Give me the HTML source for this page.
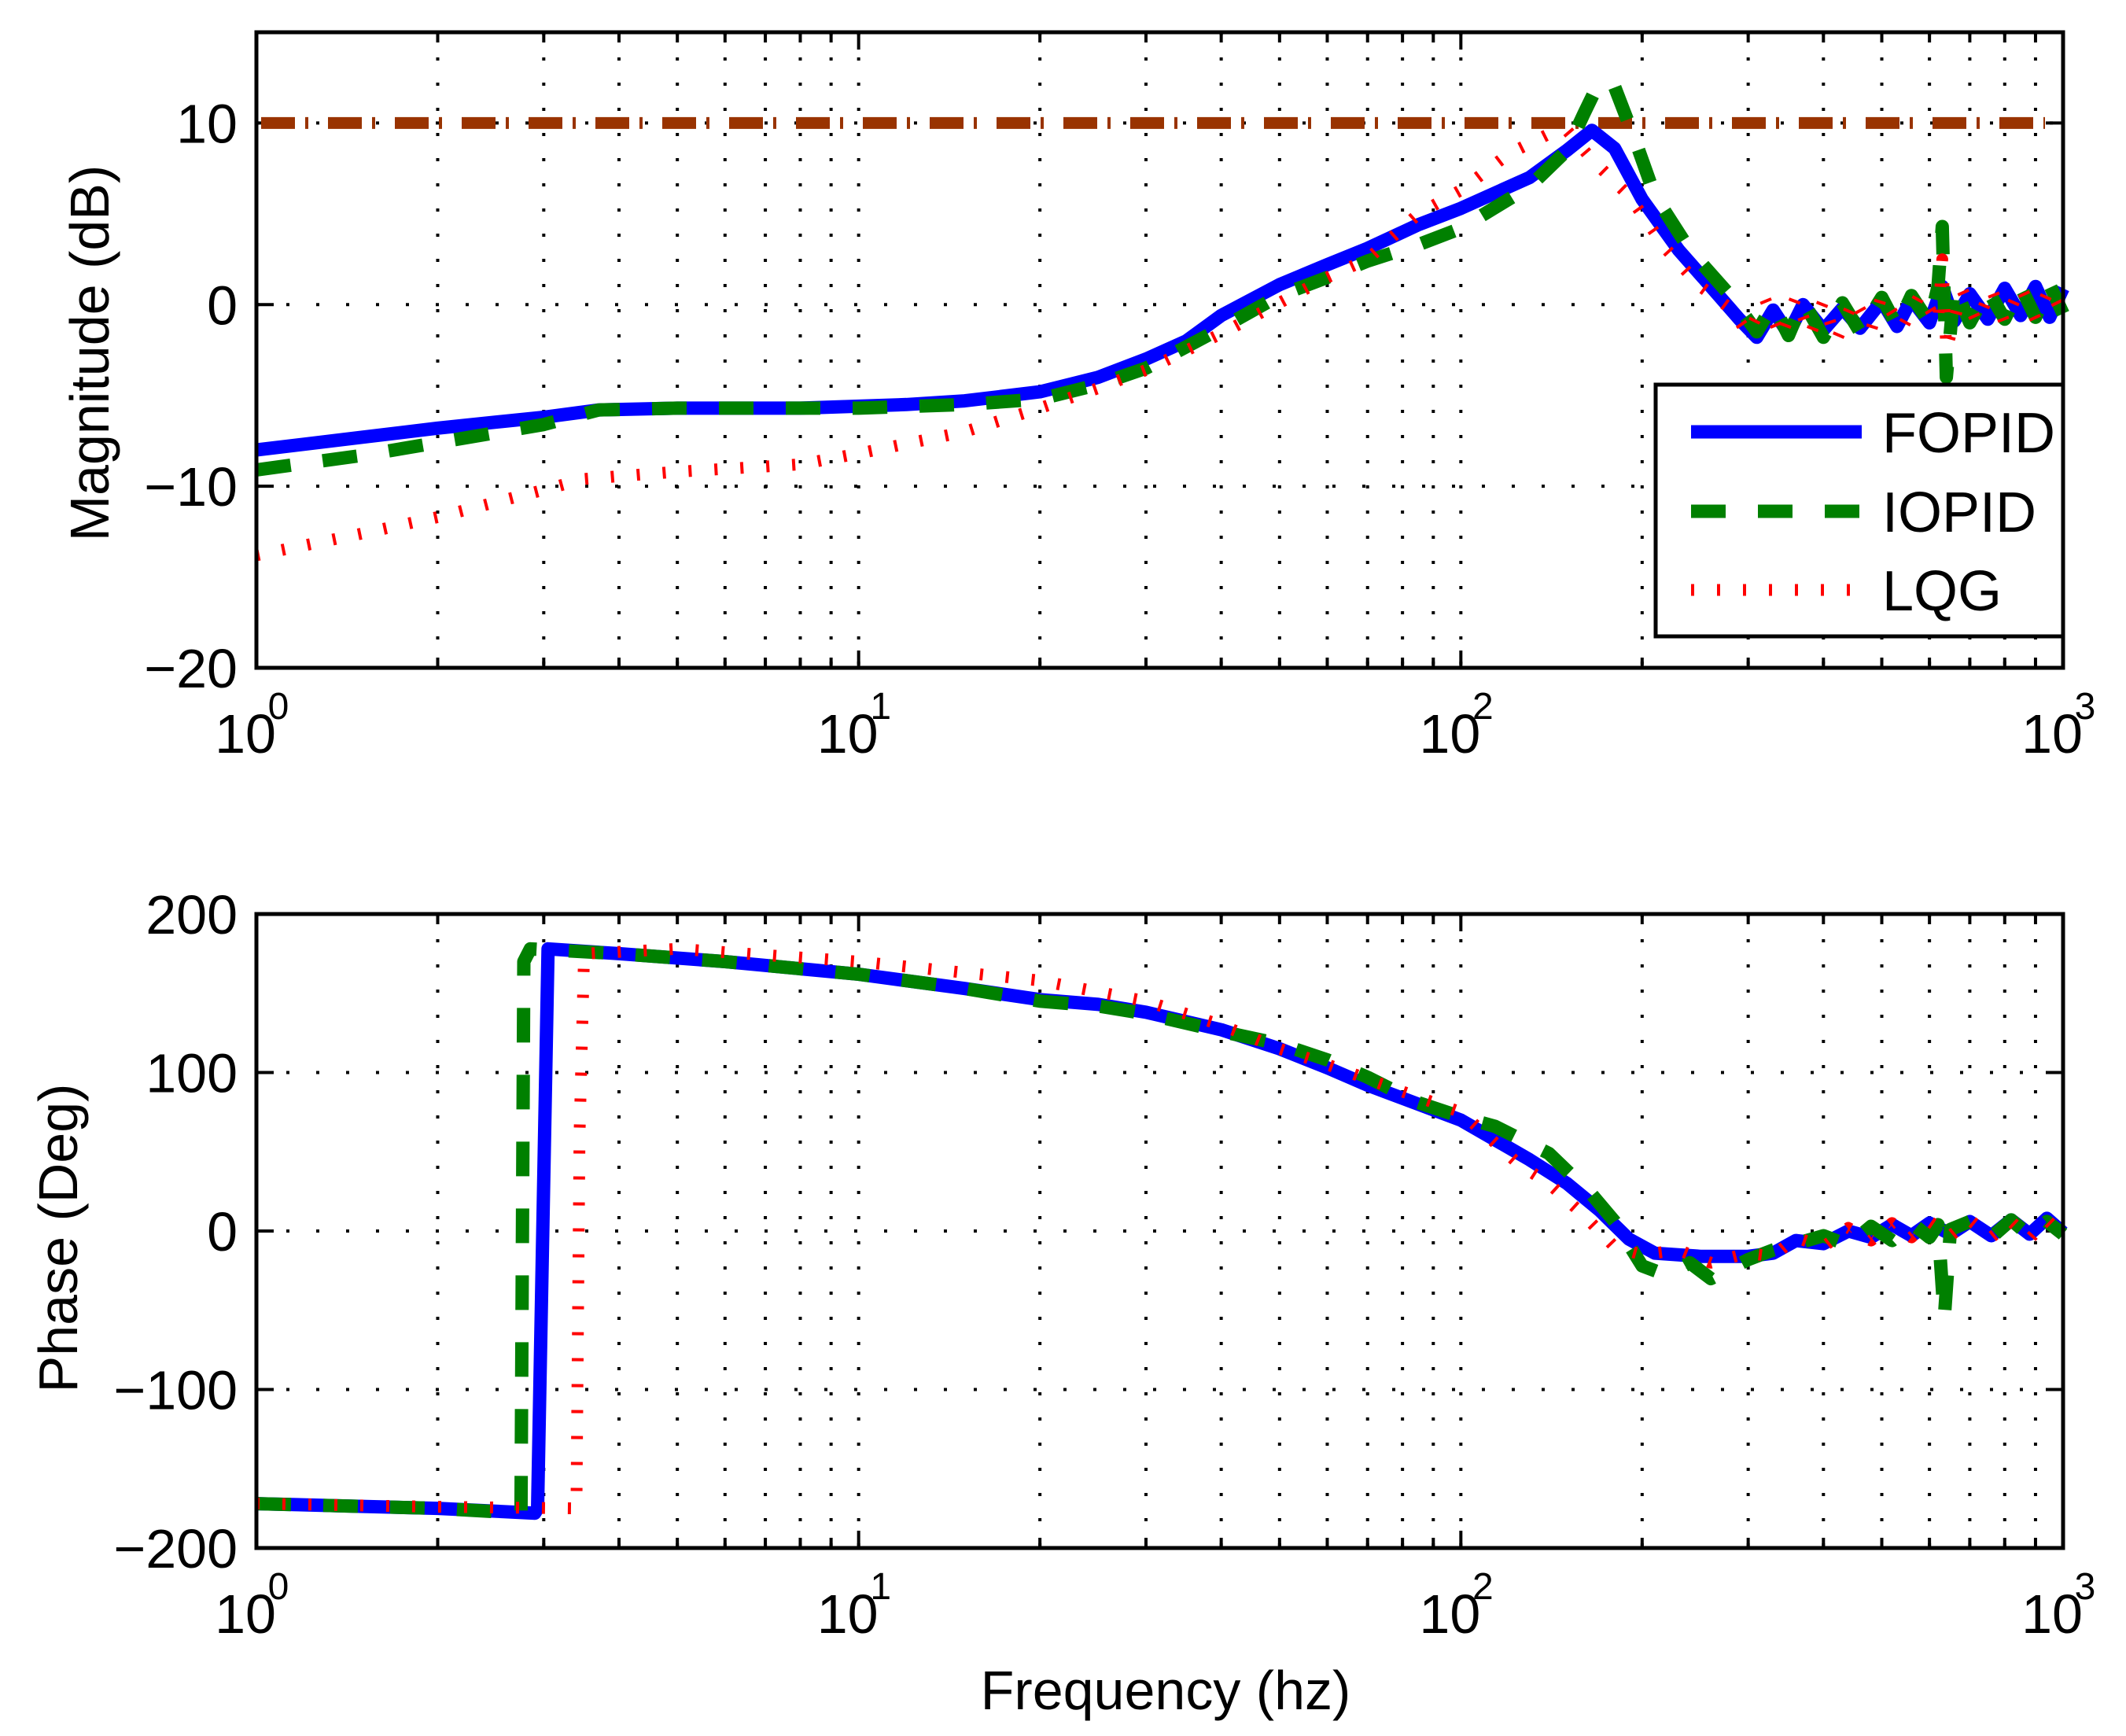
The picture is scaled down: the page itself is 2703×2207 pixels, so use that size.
<!DOCTYPE html>
<html><head><meta charset="utf-8"><style>
html,body{margin:0;padding:0;background:#fff;}
svg{display:block;font-family:"Liberation Sans",sans-serif;}
</style></head><body>
<svg id="chart" width="2703" height="2207" viewBox="0 0 2703 2207" xmlns="http://www.w3.org/2000/svg">
<rect x="0" y="0" width="2703" height="2207" fill="#fff"/>
<g id="magAxes"></g>
<g id="phaseAxes"></g>
<text x="0" y="0" font-size="70" text-anchor="middle" transform="translate(138,449) rotate(-90)">Magnitude (dB)</text>
<text x="0" y="0" font-size="70" text-anchor="middle" transform="translate(98,1574) rotate(-90)">Phase (Deg)</text>
<text x="1482" y="2173" font-size="70" text-anchor="middle">Frequency (hz)</text>
<g id="legend"></g>
</svg>
<script>
// ---- data ----
const fopidMagF = [1,1.5,2,3,3.7,5,8,12,15,20,25,30,35,40,50,60,70,85,100,130,150,165,180,200,230,260,290,310,330,350,370,400,430,460,500,530,560,600,630,660,700,750,800,850,900,950,1000];
const fopidMagV = [-8,-7.3,-6.8,-6.2,-5.8,-5.7,-5.7,-5.5,-5.3,-4.8,-4,-3,-2,-0.6,1.1,2.2,3.1,4.4,5.3,7,8.5,9.6,8.6,5.8,3,1,-0.8,-1.8,-0.3,-1.6,0,-1.4,-0.2,-1.3,0.2,-1.2,0.3,-1,1,-0.9,0.6,-0.8,0.9,-0.6,1,-0.7,0.9];
const iopidMagF = [1,1.5,2,3,3.7,5,10,15,20,25,30,40,50,60,70,85,100,130,150,160,170,180,195,210,240,280,310,330,350,370,400,430,460,500,530,560,600,620,630,640,660,700,750,800,850,900,950,1000];
const iopidMagV = [-9.1,-8.3,-7.6,-6.6,-5.8,-5.7,-5.7,-5.5,-5.2,-4.4,-3.5,-1.3,0.5,1.5,2.4,3.3,4.2,6.5,8.5,10.5,12.3,12,9,6,3,0.5,-1.5,0,-1.7,0.2,-1.8,0.1,-1.5,0.4,-1.2,0.5,-1,1,4.3,-4,1,-1,0.8,-0.8,1,-0.7,1.1,-0.5];
const lqgMagF = [1,1.5,2,3,3.5,5,8,10,15,20,25,30,40,50,60,70,85,100,120,140,150,165,190,220,250,280,300,320,340,360,380,400,420,450,480,500,540,580,620,630,640,680,720,760,800,850,900,950,1000];
const lqgMagV = [-13.8,-12.6,-11.7,-10.2,-9.6,-9.2,-8.8,-8.2,-7,-5.7,-4.6,-3.6,-1.6,0.1,1.5,2.5,5,6.3,8.3,9.4,9.6,8,6,3,1,-0.2,-1.6,0.3,-1.8,0.4,-1.7,0.2,-2,0.3,-1.4,0.5,-1.3,0.6,-1,2.5,-2.5,0.8,-1,0.9,-1,1,-0.8,0.9,-0.6];

const fopidPhF = [1,2,2.9,2.93,3.05,4,6,10,15,20,25,30,40,50,60,70,85,100,130,150,170,190,210,250,300,330,360,400,440,480,520,560,600,650,700,760,820,880,940,1000];
const fopidPhV = [-172,-175,-178,-175,178,175,170,162,153,146,143,138,127,115,103,92,80,70,45,30,13,-5,-14,-16,-16,-14,-6,-8,0,-4,4,-3,5,-2,6,-3,7,-2,8,-1];
const iopidPhF = [1,2,2.75,2.78,2.85,4,6,10,15,20,25,30,40,50,60,70,85,100,114,140,165,180,200,220,240,260,300,330,360,400,440,480,520,560,600,620,635,650,700,760,820,880,940,1000];
const iopidPhV = [-172,-175,-178,170,178,175,170,162,153,145,142,137,126,118,108,97,81,72,66,49,23,6,-22,-28,-20,-30,-18,-12,-8,-3,-9,3,-6,5,-4,4,-55,1,6,-4,7,-3,6,-2];
const lqgPhF = [1,2,3.4,3.44,3.5,5,10,20,30,40,50,60,80,100,125,140,160,180,200,230,260,300,330,360,400,440,480,520,560,600,650,700,760,820,880,940,1000];
const lqgPhV = [-172,-174,-175,60,175,178,170,158,145,130,115,105,88,75,42,30,10,-10,-15,-12,-20,-14,-16,-4,-10,2,-6,5,-4,6,-3,7,-4,6,-5,7,-3];

const magTicks = [10,0,-10,-20];
const phaseTicks = [200,100,0,-100,-200];
const decadeExps = [0,1,2,3];
const refLevel = 10;

// ---- layout ----
const X0=326, X1=2623;
const M = {top:41, bottom:849, ymax:15, ymin:-20};
const P = {top:1162, bottom:1968, ymax:200, ymin:-200};
const NS="http://www.w3.org/2000/svg";
function xs(f){return X0+Math.log10(f)/3*(X1-X0);}
function ysF(ax){return v=>ax.top+(ax.ymax-v)/(ax.ymax-ax.ymin)*(ax.bottom-ax.top);}
function mk(tag,attrs,parent){const e=document.createElementNS(NS,tag);for(const k in attrs)e.setAttribute(k,attrs[k]);parent.appendChild(e);return e;}
function pathD(F,V,ys){return F.map((f,i)=>(i?'L':'M')+xs(f).toFixed(1)+' '+ys(V[i]).toFixed(1)).join(' ');}

function drawAxes(g,ax,ticks,name){
  const ys=ysF(ax);
  for(let d=0;d<3;d++)for(let m=1;m<=9;m++){
    const f=m*Math.pow(10,d); if(f<=1)continue;
    const x=xs(f);
    const l=mk('line',{x1:x,y1:ax.top,x2:x,y2:ax.bottom,stroke:'#000','stroke-width':4,'stroke-dasharray':'4 28'},g);
    
    
    const tl=(m===1)?22:13;
    mk('line',{x1:x,y1:ax.bottom,x2:x,y2:ax.bottom-tl,stroke:'#000','stroke-width':4},g);
    mk('line',{x1:x,y1:ax.top,x2:x,y2:ax.top+tl,stroke:'#000','stroke-width':4},g);
  }
  ticks.forEach(t=>{
    const y=ys(t);
    if(t<ax.ymax&&t>ax.ymin){
      const l=mk('line',{x1:X0,y1:y,x2:X1,y2:y,stroke:'#000','stroke-width':4,'stroke-dasharray':'4 34'},g);
      
      
    }
    mk('line',{x1:X0,y1:y,x2:X0+22,y2:y,stroke:'#000','stroke-width':4},g);
    mk('line',{x1:X1,y1:y,x2:X1-22,y2:y,stroke:'#000','stroke-width':4},g);
    const tx=mk('text',{x:302,y:y+25,'font-size':70,'text-anchor':'end'},g);
    tx.textContent=(t<0?'\u2212':'')+Math.abs(t);
    
    
  });
  decadeExps.forEach(e=>{
    const x=xs(Math.pow(10,e));
    const t=mk('text',{x:x-14,y:ax.bottom+108,'font-size':70,'text-anchor':'middle'},g);
    t.textContent='10';
    
    
    const s=mk('text',{x:x+28,y:ax.bottom+65,'font-size':48,'text-anchor':'middle'},g);
    s.textContent=String(e);
    
    
  });
}
function drawSeries(g,F,V,ys,style,name){
  const p=mk('path',Object.assign({d:pathD(F,V,ys),fill:'none','stroke-linejoin':'round'},style),g);
  
  
}
function frame(g,ax,name){
  const r=mk('rect',{x:X0,y:ax.top,width:X1-X0,height:ax.bottom-ax.top,fill:'none',stroke:'#000','stroke-width':5},g);
  
  
}
const sB={stroke:'#0000ff','stroke-width':17};
const sG={stroke:'#008000','stroke-width':17,'stroke-dasharray':'44 41'};
const sR={stroke:'#ff0000','stroke-width':15,'stroke-dasharray':'4 29'};

const gm=document.getElementById('magAxes');
const ysM=ysF(M);
drawAxes(gm,M,magTicks,'magnitude');
const ref=mk('line',{x1:332,y1:ysM(refLevel),x2:2600,y2:ysM(refLevel),stroke:'#993300','stroke-width':15,'stroke-dasharray':'43 13 4 25'},gm);


drawSeries(gm,fopidMagF,fopidMagV,ysM,sB,'fopid-magnitude-line');
drawSeries(gm,iopidMagF,iopidMagV,ysM,sG,'iopid-magnitude-line');
drawSeries(gm,lqgMagF,lqgMagV,ysM,sR,'lqg-magnitude-line');
frame(gm,M,'magnitude');

const gp=document.getElementById('phaseAxes');
const ysP=ysF(P);
drawAxes(gp,P,phaseTicks,'phase');
drawSeries(gp,fopidPhF,fopidPhV,ysP,sB,'fopid-phase-line');
drawSeries(gp,iopidPhF,iopidPhV,ysP,sG,'iopid-phase-line');
drawSeries(gp,lqgPhF,lqgPhV,ysP,sR,'lqg-phase-line');
frame(gp,P,'phase');

const lg=document.getElementById('legend');
const box=mk('rect',{x:2105,y:489,width:518,height:320,fill:'#fff',stroke:'#000','stroke-width':5},lg);


[['FOPID',sB,549],['IOPID',sG,650],['LQG',sR,750]].forEach(([lab,st,y])=>{
  const l=mk('line',Object.assign({x1:2150,y1:y,x2:2367,y2:y},st),lg);
  
  
  const t=mk('text',{x:2393,y:y+26,'font-size':72},lg);
  t.textContent=lab;
  
  
});
</script>
</body></html>
